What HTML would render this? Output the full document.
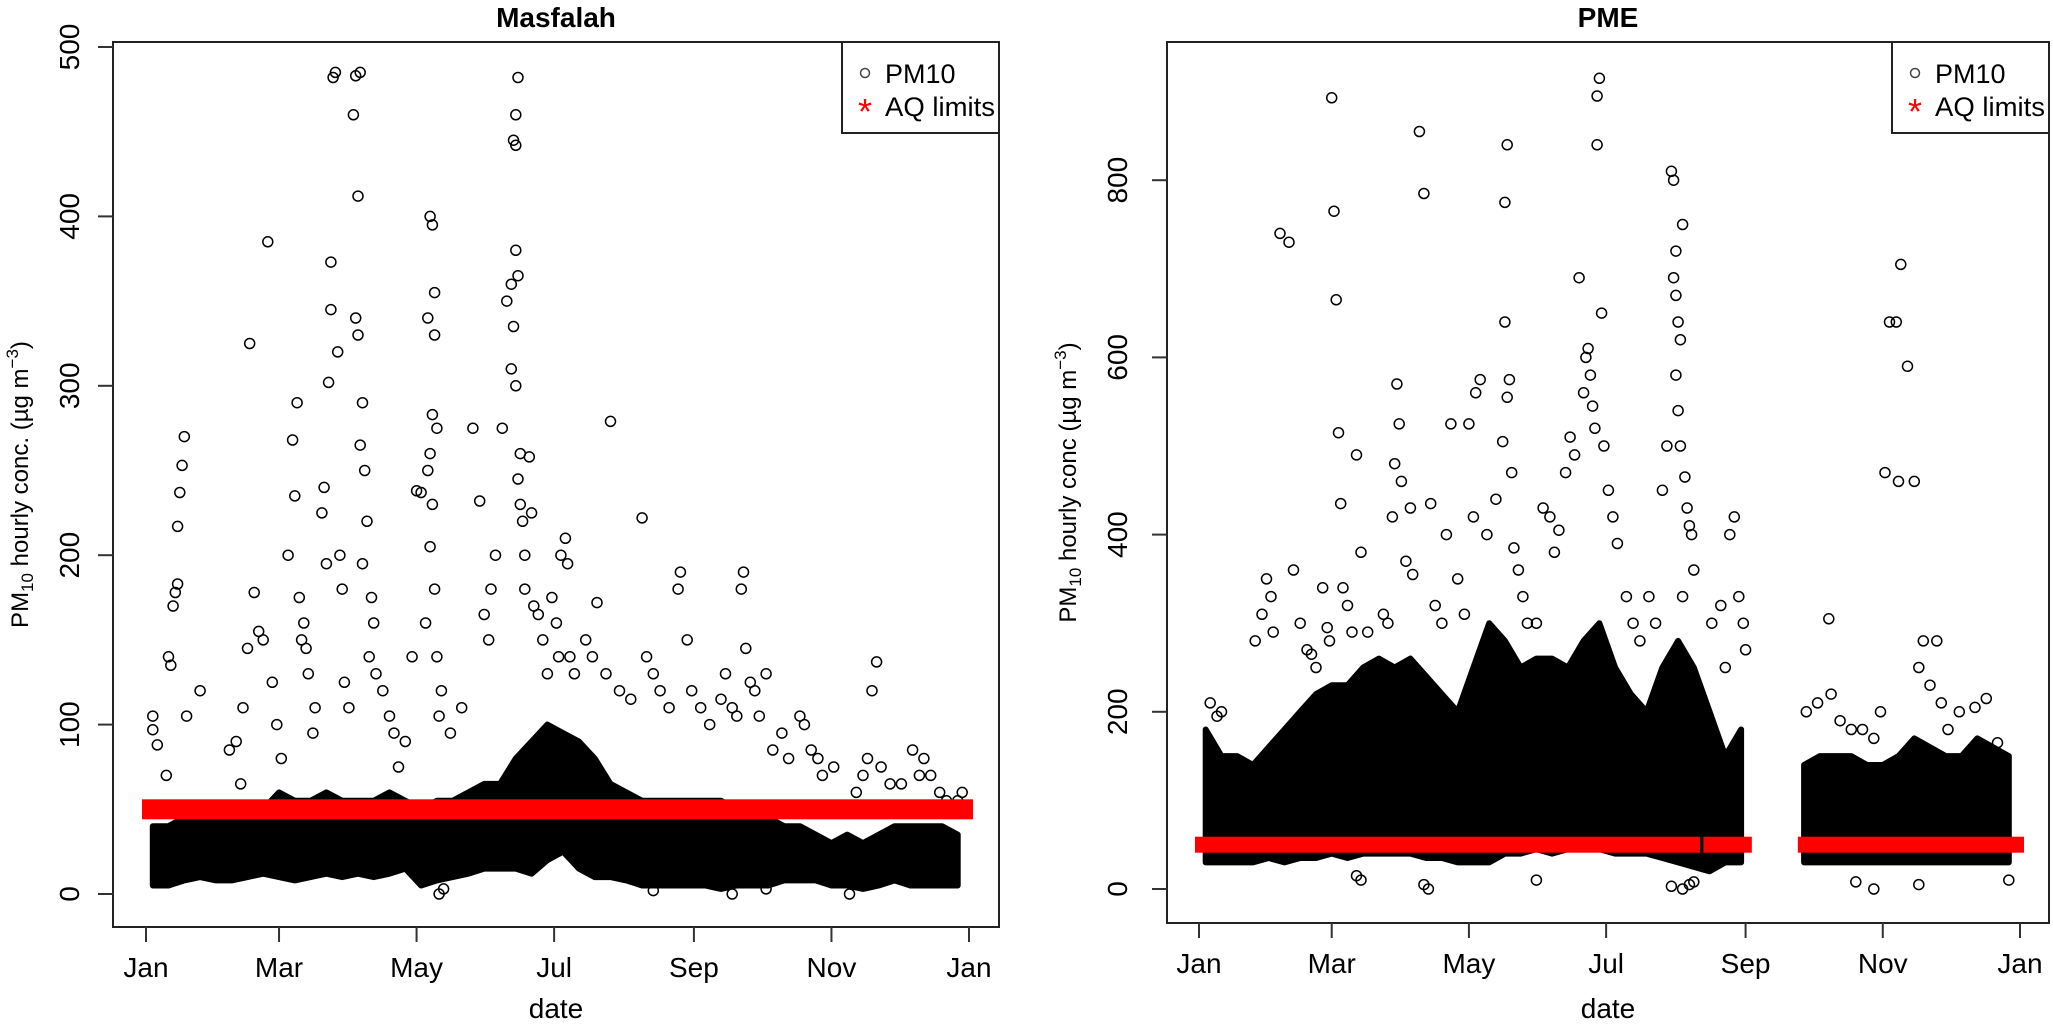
<!DOCTYPE html>
<html><head><meta charset="utf-8"><style>
html,body{margin:0;padding:0;background:#fff}
svg{display:block}
text{font-family:"Liberation Sans",sans-serif}
</style></head><body>
<svg id="chart" width="2053" height="1026" viewBox="0 0 2053 1026" xmlns="http://www.w3.org/2000/svg"></svg>
<script>
// ===== Data: Masfalah =====
const monthLabels = ["Jan","Mar","May","Jul","Sep","Nov","Jan"];
const monthDays = [0,59,120,181,243,304,365];
const leftYTicks = [0,100,200,300,400,500];
const rightYTicks = [0,200,400,600,800];
const aqLimit = 50;
const leftBandLow = [5,5,8,10,8,8,10,12,10,8,10,12,10,12,10,12,15,5,8,10,12,15,15,15,12,20,25,15,10,10,8,5,5,5,5,5,3,5,5,5,8,8,8,5,5,3,5,8,5,5,5,5];
const leftBandHigh = [40,40,45,45,45,45,45,50,60,55,55,60,55,55,55,60,55,50,55,55,60,65,65,80,90,100,95,90,80,65,60,55,55,55,55,55,55,50,50,45,40,40,35,30,35,30,35,40,40,40,40,35];
const leftDays = [3,3,5,10,11,12,13,14,15,16,17,14,18,9,24,37,40,43,45,46,48,50,52,54,56,58,42,60,63,65,66,67,68,69,70,71,72,74,75,78,79,80,81,82,82,83,84,85,86,87,88,90,92,93,95,94,93,94,96,95,97,98,96,100,101,99,102,105,108,110,115,118,112,120,122,125,126,127,128,128,127,129,126,125,127,126,128,124,129,131,130,135,140,145,148,150,152,153,155,158,160,162,163,164,164,165,164,165,163,162,164,166,165,166,167,168,170,171,168,172,174,176,178,180,182,184,186,187,183,188,190,195,198,200,204,206,210,215,220,222,225,228,232,236,237,240,242,246,250,255,257,260,262,264,265,266,268,270,272,275,278,282,285,290,292,295,298,300,305,315,318,320,322,324,326,330,335,340,343,345,348,352,355,360,362,130,132,225,260,275,312];
const leftVals = [97,105,88,140,135,170,178,217,237,253,270,183,105,70,120,85,90,110,145,325,178,155,150,385,125,100,65,80,200,268,235,290,175,150,160,145,130,95,110,225,240,195,302,345,373,482,485,320,200,180,125,110,460,483,485,412,340,330,290,265,250,220,195,175,160,140,130,120,105,95,90,140,75,238,237,340,400,395,355,330,283,275,260,250,230,205,180,160,140,120,105,95,110,275,232,165,150,180,200,275,350,360,445,442,460,482,380,365,335,310,300,260,245,230,220,200,258,225,180,170,165,150,130,175,160,200,210,195,140,140,130,150,140,172,130,279,120,115,222,140,130,120,110,180,190,150,120,110,100,115,130,110,105,180,190,145,125,120,105,130,85,95,80,105,100,85,80,70,75,60,70,80,120,137,75,65,65,85,70,80,70,60,55,55,60,0,3,2,0,3,0];
const leftAqSegments = [[0,365]];

// ===== Data: PME =====
const rightBandLow = [30,30,30,30,35,30,35,35,40,35,40,40,40,40,35,35,30,30,30,40,40,45,40,45,50,45,40,40,40,35,30,25,20,30,30,null,null,null,30,30,30,30,30,30,30,30,30,30,30,30,30,30];
const rightBandHigh = [180,150,150,140,160,180,200,220,230,230,250,260,250,260,240,220,200,250,300,280,250,260,260,250,280,300,250,220,200,250,280,250,200,150,180,null,null,null,140,150,150,150,140,140,150,170,160,150,150,170,160,150];
const rightDays = [5,8,10,25,28,30,32,33,36,40,42,45,48,50,52,55,57,58,59,60,61,62,63,64,66,68,70,72,75,78,80,82,84,86,87,88,89,90,92,94,95,98,100,103,105,108,110,112,115,118,120,123,125,122,128,132,135,137,136,136,137,138,139,140,142,144,146,150,153,156,158,160,163,165,167,169,171,172,173,174,175,176,177,178,177,179,180,182,184,186,190,193,196,200,203,206,208,210,211,212,211,212,213,214,212,213,214,215,216,217,218,219,220,215,228,232,236,238,240,242,243,234,270,275,280,281,285,290,295,300,303,305,307,310,311,312,315,318,320,322,325,328,330,333,338,345,350,355,100,102,150,215,218,210,220,70,72,292,300,320,360];
const rightVals = [210,195,200,280,310,350,330,290,740,730,360,300,270,265,250,340,295,280,893,765,665,515,435,340,320,290,490,380,290,250,240,310,300,420,480,570,525,460,370,430,355,855,785,435,320,300,400,525,350,310,525,560,575,420,400,440,505,555,640,775,840,575,470,385,360,330,300,300,430,420,380,405,470,510,490,690,560,600,610,580,545,520,895,915,840,650,500,450,420,390,330,300,280,330,300,450,500,810,800,720,690,670,640,620,580,540,500,750,465,430,410,400,360,330,300,320,400,420,330,300,270,250,200,210,305,220,190,180,180,170,200,470,640,640,460,705,590,460,250,280,230,280,210,180,200,205,215,165,5,0,10,0,5,3,8,15,10,8,0,5,10];
const rightAqSegments = [[0,221],[226,244],[268,365]];

// ===== Drawing =====
const svg = document.getElementById('chart');
const NS = 'http://www.w3.org/2000/svg';
function mk(tag, attrs, parent){
  const e = document.createElementNS(NS, tag);
  for (const k in attrs) e.setAttribute(k, attrs[k]);
  (parent||svg).appendChild(e);
  return e;
}

function panel(cfg){
  const g = mk('g', {});
  
  
  const xs = d => cfg.x0 + d * (cfg.x1 - cfg.x0) / 365;
  const ys = v => cfg.y0 - v * cfg.pxPerUnit;

  let seg = [];
  const segs = [];
  for (let i = 0; i < cfg.low.length; i++){
    if (cfg.low[i] === null){ if (seg.length) segs.push(seg); seg = []; }
    else seg.push(i);
  }
  if (seg.length) segs.push(seg);
  segs.forEach(s => {
    let top = s.map(i => xs(Math.min(364, i*7+3)).toFixed(1) + ',' + ys(cfg.high[i]).toFixed(1));
    let bot = s.slice().reverse().map(i => xs(Math.min(364, i*7+3)).toFixed(1) + ',' + ys(cfg.low[i]).toFixed(1));
    const p = mk('polygon', {points: top.concat(bot).join(' '), fill:'#000', stroke:'#000', 'stroke-width':6, 'stroke-linejoin':'round'}, g);
    
    
  });

  for (let i = 0; i < cfg.days.length; i++){
    const c = mk('circle', {cx: xs(cfg.days[i]).toFixed(1), cy: ys(cfg.vals[i]).toFixed(1), r: 5, fill:'none', stroke:'#000', 'stroke-width':1.5}, g);
    
    
  }

  cfg.aq.forEach(s => {
    const r = mk('rect', {x: xs(s[0]) - 4, y: ys(aqLimit) - cfg.aqH/2, width: xs(s[1]) - xs(s[0]) + 8, height: cfg.aqH, fill:'#ff0000'}, g);
    
    
  });

  const b = mk('rect', {x: cfg.bx0, y: cfg.by0, width: cfg.bx1 - cfg.bx0, height: cfg.by1 - cfg.by0, fill:'none', stroke:'#222', 'stroke-width':2}, g);
  
  

  cfg.yTicks.forEach(t => {
    const y = ys(t);
    mk('line', {x1: cfg.bx0 - 15, x2: cfg.bx0, y1: y, y2: y, stroke:'#333', 'stroke-width':2}, g);
    const tx = mk('text', {x: cfg.bx0 - cfg.ylabOff, y: y, 'font-size': 28, 'text-anchor':'middle', transform:`rotate(-90 ${cfg.bx0 - cfg.ylabOff} ${y})`}, g);
    tx.textContent = t;
    
    
  });
  monthDays.forEach((d, i) => {
    const x = xs(d);
    mk('line', {x1: x, x2: x, y1: cfg.by1, y2: cfg.by1 + 15, stroke:'#333', 'stroke-width':2}, g);
    const tx = mk('text', {x: x, y: cfg.by1 + 50, 'font-size': 28, 'text-anchor':'middle'}, g);
    tx.textContent = monthLabels[i];
    
    
  });
  const xt = mk('text', {x: (cfg.bx0 + cfg.bx1)/2, y: 1018, 'font-size': 28, 'text-anchor':'middle'}, g);
  xt.textContent = 'date';
  
  
  const cy = (cfg.by0 + cfg.by1)/2;
  const yt = mk('text', {x: cfg.ytX, y: cy, 'font-size': 24, 'text-anchor':'middle', transform:`rotate(-90 ${cfg.ytX} ${cy})`}, g);
  yt.innerHTML = 'PM<tspan font-size="17" dy="5">10</tspan><tspan dy="-5"> hourly conc' + cfg.dot + ' (µg m</tspan><tspan font-size="17" dy="-10">−3</tspan><tspan dy="10">)</tspan>';
  
  
  const tt = mk('text', {x: (cfg.bx0 + cfg.bx1)/2, y: 27, 'font-size': 28, 'font-weight':'bold', 'text-anchor':'middle'}, g);
  tt.textContent = cfg.title;
  
  

  const lg = mk('g', {}, g);
  
  
  const lx = cfg.bx1 - 157;
  mk('rect', {x: lx, y: cfg.by0, width: 157, height: 91, fill:'#fff', stroke:'#222', 'stroke-width':2}, lg);
  const lc = mk('circle', {cx: lx + 23, cy: 73, r: 4.5, fill:'none', stroke:'#444', 'stroke-width':1.5}, lg);
  
  
  const l1 = mk('text', {x: lx + 43, y: 83, 'font-size': 27}, lg);
  l1.textContent = 'PM10';
  
  
  const ls = mk('text', {x: lx + 23, y: 124, 'font-size': 36, 'text-anchor':'middle', style:'fill:#ff0000'}, lg);
  ls.textContent = '*';
  
  
  const l2 = mk('text', {x: lx + 43, y: 116, 'font-size': 27, textLength: 110, lengthAdjust:'spacingAndGlyphs'}, lg);
  l2.textContent = 'AQ limits';
  
  
}

panel({name:'masfalah', title:'Masfalah', x0:146, x1:969, y0:894, pxPerUnit:1.694,
  bx0:113, bx1:999, by0:42, by1:927, yTicks:leftYTicks, ylabOff:34, ytX:28, dot:'.',
  low:leftBandLow, high:leftBandHigh, days:leftDays, vals:leftVals, aq:leftAqSegments, aqH:20});
panel({name:'pme', title:'PME', x0:1199, x1:2020, y0:889, pxPerUnit:0.886,
  bx0:1167, bx1:2049, by0:42, by1:923, yTicks:rightYTicks, ylabOff:40, ytX:1076, dot:'',
  low:rightBandLow, high:rightBandHigh, days:rightDays, vals:rightVals, aq:rightAqSegments, aqH:16});
</script>
</body></html>
